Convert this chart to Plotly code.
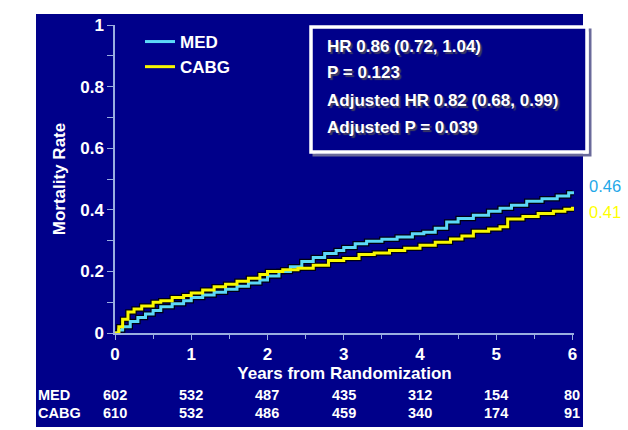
import plotly.graph_objects as go

# ---- data ----
med_t = [0, 0.05, 0.1, 0.2, 0.3, 0.4, 0.5, 0.6, 0.75, 0.9, 1.0, 1.15, 1.3, 1.45, 1.6, 1.75, 1.9, 2.0,
         2.15, 2.3, 2.45, 2.6, 2.75, 2.9, 3.0, 3.15, 3.3, 3.5, 3.7, 3.9, 4.05, 4.2, 4.35, 4.5, 4.7,
         4.9, 5.05, 5.2, 5.4, 5.6, 5.8, 5.95, 6.0]
med_v = [0, 0.01, 0.02, 0.037, 0.05, 0.062, 0.073, 0.085, 0.095, 0.105, 0.115, 0.123, 0.132, 0.142,
         0.152, 0.162, 0.172, 0.185, 0.2, 0.215, 0.232, 0.245, 0.258, 0.268, 0.278, 0.29, 0.298,
         0.304, 0.312, 0.322, 0.327, 0.34, 0.36, 0.372, 0.382, 0.395, 0.405, 0.415, 0.428, 0.436,
         0.445, 0.455, 0.46]
cabg_t = [0, 0.05, 0.1, 0.17, 0.25, 0.35, 0.5, 0.6, 0.75, 0.9, 1.0, 1.15, 1.3, 1.45, 1.6, 1.75, 1.9,
          2.0, 2.2, 2.4, 2.6, 2.8, 3.0, 3.2, 3.4, 3.6, 3.8, 4.0, 4.2, 4.4, 4.55, 4.7, 4.9, 5.05,
          5.15, 5.35, 5.55, 5.75, 5.9, 6.0]
cabg_v = [0, 0.02, 0.045, 0.068, 0.078, 0.088, 0.1, 0.105, 0.115, 0.122, 0.13, 0.14, 0.15, 0.158,
          0.168, 0.178, 0.19, 0.2, 0.205, 0.21, 0.22, 0.235, 0.242, 0.255, 0.26, 0.268, 0.275,
          0.285, 0.295, 0.305, 0.315, 0.33, 0.338, 0.345, 0.37, 0.378, 0.388, 0.395, 0.402, 0.41]

risk_years = [0, 1, 2, 3, 4, 5, 6]
risk_med = [602, 532, 487, 435, 312, 154, 80]
risk_cabg = [610, 532, 486, 459, 340, 174, 91]

y_ticks = [0, 0.2, 0.4, 0.6, 0.8, 1]
y_ticktext = ["0", "0.2", "0.4", "0.6", "0.8", "1"]
x_ticks = [0, 1, 2, 3, 4, 5, 6]

stats_lines = ["HR 0.86 (0.72, 1.04)", "P = 0.123", "Adjusted HR 0.82 (0.68, 0.99)", "Adjusted P = 0.039"]

NAVY = "#00008a"
CYAN = "#5cd8f8"
YELLOW = "#f8f800"
AXIS = "#9aaee0"
FONT = "Liberation Sans, Arial, sans-serif"

fig = go.Figure()
# dark outlines
fig.add_trace(go.Scatter(x=cabg_t, y=cabg_v, mode="lines", line=dict(color="#000010", width=5.5, shape="hv"),
                         showlegend=False, hoverinfo="skip"))
fig.add_trace(go.Scatter(x=med_t, y=med_v, mode="lines", line=dict(color="#000010", width=5.5, shape="hv"),
                         showlegend=False, hoverinfo="skip"))
fig.add_trace(go.Scatter(x=med_t, y=med_v, mode="lines", name="MED", line=dict(color=CYAN, width=3, shape="hv")))
fig.add_trace(go.Scatter(x=cabg_t, y=cabg_v, mode="lines", name="CABG", line=dict(color=YELLOW, width=3, shape="hv")))

W, H = 628, 430
# plot area in screen pixels: x 115..574, y 25..333
SL, SR, ST, SB = 115, 574, 25, 333
L, T = SL, ST
R = W - SR
B = H - SB
pw, ph = SR - SL, SB - ST

def px(x):
    return (x - SL) / pw

def py(y):
    return (SB - y) / ph

shapes = [
    dict(type="rect", xref="paper", yref="paper", x0=px(36), x1=px(583), y0=py(427), y1=py(14),
         fillcolor=NAVY, line=dict(width=0), layer="below"),
    dict(type="rect", xref="paper", yref="paper", x0=px(314), x1=px(590), y0=py(155), y1=py(30),
         fillcolor="rgba(0,0,0,0)", line=dict(color="#6a6a9a", width=3)),
    dict(type="rect", xref="paper", yref="paper", x0=px(311), x1=px(587), y0=py(152), y1=py(27),
         fillcolor=NAVY, line=dict(color="white", width=3.5)),
]

annotations = []
for txt, yy in zip(stats_lines, [46, 72, 101, 128]):
    annotations.append(dict(text=txt, xref="paper", yref="paper", x=px(325), y=py(yy), xanchor="left",
                            yanchor="middle", showarrow=False,
                            font=dict(family=FONT, size=17, color="white", weight="bold",
                                      shadow="2px 2px 1px #404060")))
for label, vals, yy in [("MED", risk_med, 395), ("CABG", risk_cabg, 413)]:
    annotations.append(dict(text=label, xref="paper", yref="paper", x=px(36), y=py(yy), xanchor="left",
                            yanchor="middle", showarrow=False,
                            font=dict(family=FONT, size=14.5, color="white", weight="bold")))
    for xv, v in zip(risk_years, vals):
        annotations.append(dict(text=str(v), xref="x", yref="paper", x=xv, y=py(yy), xanchor="center",
                                yanchor="middle", showarrow=False,
                                font=dict(family=FONT, size=14.5, color="white", weight="bold")))
annotations.append(dict(text="0.46", xref="paper", yref="paper", x=px(587), y=py(186), xanchor="left",
                        yanchor="middle", showarrow=False, font=dict(family=FONT, size=16.5, color="#1fa8e8")))
annotations.append(dict(text="0.41", xref="paper", yref="paper", x=px(587), y=py(212), xanchor="left",
                        yanchor="middle", showarrow=False, font=dict(family=FONT, size=16.5, color="#ffff00")))

fig.update_layout(
    width=W, height=H,
    margin=dict(l=L, r=R, t=T, b=B, pad=0),
    paper_bgcolor="white", plot_bgcolor=NAVY,
    shapes=shapes, annotations=annotations,
    showlegend=True,
    legend=dict(x=px(140), y=py(24), xanchor="left", yanchor="top", bgcolor="rgba(0,0,0,0)",
                font=dict(family=FONT, size=17, color="white", weight="bold"),
                itemwidth=30, tracegroupgap=0),
    xaxis=dict(range=[0, 6.02], tickvals=x_ticks, showgrid=False, zeroline=False,
               showline=True, linecolor=AXIS, linewidth=1.5, ticks="outside", ticklen=5, tickcolor=AXIS,
               tickfont=dict(family=FONT, size=17, color="white", weight="bold"),
               minor=dict(dtick=0.5, ticks="outside", ticklen=4, tickcolor=AXIS, showgrid=False),
               title=dict(text="Years from Randomization", standoff=4,
                          font=dict(family=FONT, size=17, color="white", weight="bold"))),
    yaxis=dict(range=[0, 1], tickvals=y_ticks, ticktext=y_ticktext, showgrid=False, zeroline=False,
               showline=True, linecolor=AXIS, linewidth=1.5, ticks="outside", ticklen=6, tickcolor=AXIS,
               tickfont=dict(family=FONT, size=17, color="white", weight="bold"),
               minor=dict(tickvals=[0.1, 0.3, 0.5, 0.7, 0.9], ticks="outside", ticklen=6, tickcolor=AXIS,
                          showgrid=False),
               title=dict(text="Mortality Rate", standoff=10,
                          font=dict(family=FONT, size=17, color="white", weight="bold"))),
)

fig.write_html("out.html", config={"displayModeBar": False},
               post_script="document.body.style.margin='0';document.body.style.overflow='hidden';")
